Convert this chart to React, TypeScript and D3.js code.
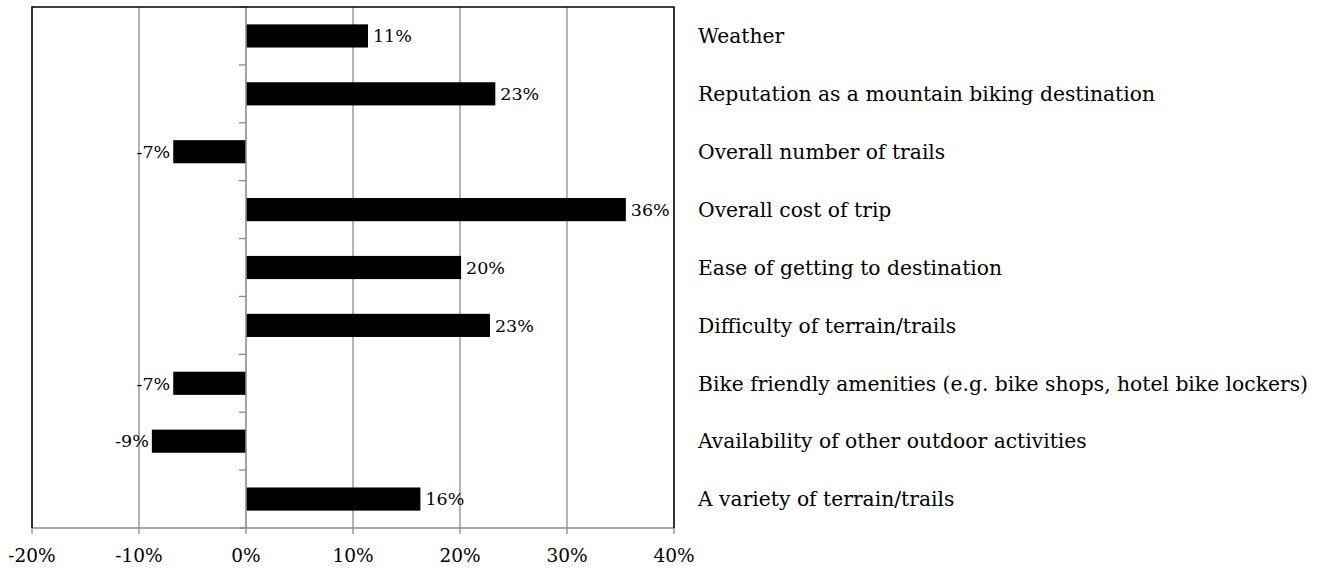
import React from "react";
import * as d3 from "d3";

const categories = [
  "Weather",
  "Reputation as a mountain biking destination",
  "Overall number of trails",
  "Overall cost of trip",
  "Ease of getting to destination",
  "Difficulty of terrain/trails",
  "Bike friendly amenities (e.g. bike shops, hotel bike lockers)",
  "Availability of other outdoor activities",
  "A variety of terrain/trails",
];
const values = [0.114, 0.233, -0.068, 0.355, 0.201, 0.228, -0.068, -0.088, 0.163];
const valueLabels = ["11%", "23%", "-7%", "36%", "20%", "23%", "-7%", "-9%", "16%"];
const xTicks = [-0.2, -0.1, 0, 0.1, 0.2, 0.3, 0.4];
const xTickLabels = ["-20%", "-10%", "0%", "10%", "20%", "30%", "40%"];

const W = 1325;
const H = 569;
const left = 32;
const right = 674;
const top = 7;
const bottom = 528;
const FONT = "'DejaVu Serif', serif";

export default function App() {
  const x = d3.scaleLinear().domain([-0.2, 0.4]).range([left, right]);
  const y = d3
    .scaleBand<string>()
    .domain(categories)
    .range([top, bottom])
    .paddingInner(0.6)
    .paddingOuter(0.3);
  const x0 = x(0);
  const boundaries = d3.range(categories.length + 1).map((i) => top + i * (bottom - top) / categories.length);

  return (
    <svg
      width={W}
      height={H}
      style={{ position: "absolute", left: 0, top: 0, background: "#fff" }}
      fontFamily={FONT}
    >
      {xTicks.map((t) =>
        t !== 0 && t !== -0.2 && t !== 0.4 ? (
          <line key={"g" + t} x1={x(t)} x2={x(t)} y1={top} y2={bottom} stroke="#8c8c8c" strokeWidth={1.3} />
        ) : null
      )}
      {xTicks.map((t) => (
        <line key={"t" + t} x1={x(t)} x2={x(t)} y1={bottom} y2={bottom + 6} stroke="#8c8c8c" strokeWidth={1.3} />
      ))}
      {categories.map((c, i) => {
        const v = values[i];
        return (
          <rect
            key={c}
            x={Math.min(x(v), x0)}
            y={y(c)}
            width={Math.abs(x(v) - x0)}
            height={y.bandwidth()}
            fill="#000"
          />
        );
      })}
      <line x1={x0} x2={x0} y1={top} y2={bottom} stroke="#8c8c8c" strokeWidth={1.6} />
      {boundaries.map((b, i) => (
        <line key={"ct" + i} x1={x0 - 7} x2={x0} y1={b} y2={b} stroke="#8c8c8c" strokeWidth={1.3} />
      ))}
      <line x1={left} x2={right} y1={bottom} y2={bottom} stroke="#8c8c8c" strokeWidth={1.6} />
      <path d={`M${left},${bottom}V${top}H${right}V${bottom}`} fill="none" stroke="#000" strokeWidth={1.6} />
      {xTicks.map((t, i) => (
        <text key={"l" + t} x={x(t)} y={562} textAnchor="middle" fontSize={18.5} fill="#000">
          {xTickLabels[i]}
        </text>
      ))}
      {categories.map((c, i) => {
        const v = values[i];
        const cy = (y(c) as number) + y.bandwidth() / 2;
        return (
          <text
            key={"v" + c}
            x={v >= 0 ? x(v) + 5 : x(v) - 3}
            y={cy}
            dy="0.36em"
            textAnchor={v >= 0 ? "start" : "end"}
            fontSize={17.5}
            fill="#000"
          >
            {valueLabels[i]}
          </text>
        );
      })}
      {categories.map((c) => (
        <text
          key={"c" + c}
          x={698}
          y={(y(c) as number) + y.bandwidth() / 2}
          dy="0.36em"
          fontSize={20.3}
          fill="#000"
        >
          {c}
        </text>
      ))}
    </svg>
  );
}
